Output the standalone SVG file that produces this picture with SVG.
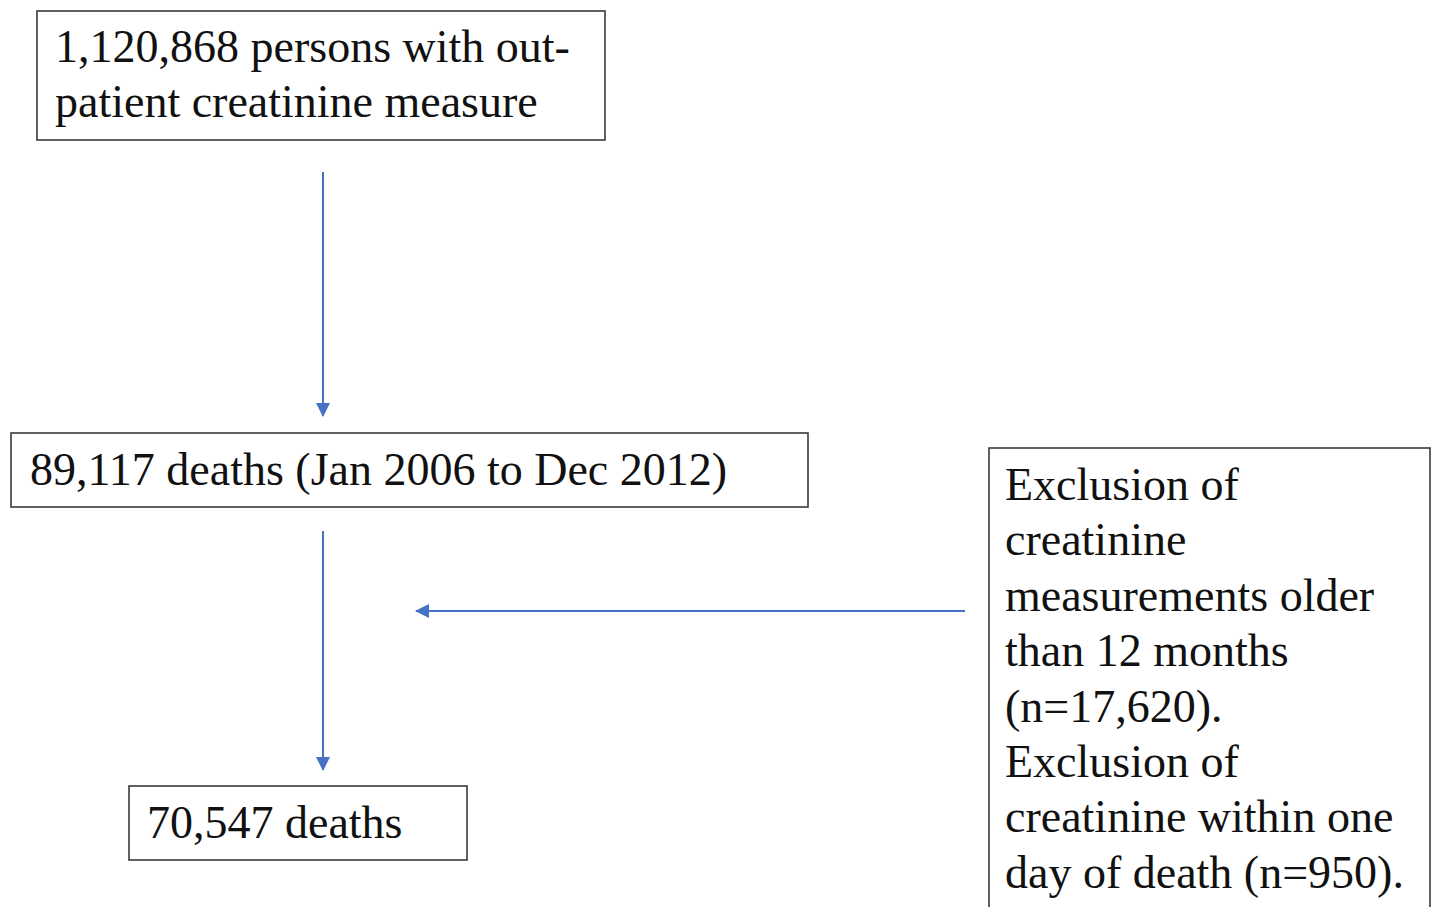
<svg xmlns="http://www.w3.org/2000/svg" width="1432" height="907" viewBox="0 0 1432 907">
<style>
.box{fill:#fff;stroke:#3a3a3a;stroke-width:1.6}
.t{font-family:"Liberation Serif","Times New Roman",serif;font-size:46px;fill:#111}
.c{stroke:#4472C4;stroke-width:2;fill:none}
</style>
<defs>
<marker id="ah" markerWidth="14" markerHeight="14" refX="13" refY="7" orient="auto" markerUnits="userSpaceOnUse">
<path d="M0,0 L14,7 L0,14 Z" fill="#4472C4"/>
</marker>
</defs>
<rect width="1432" height="907" fill="#fff"/>
<g id="n1">
<rect class="box" x="37" y="11" width="568" height="129"/>
<text class="t" x="55" y="62">1,120,868 persons with out-</text>
<text class="t" x="55" y="117">patient creatinine measure</text>
</g>
<g id="n2">
<rect class="box" x="11" y="433" width="797" height="74"/>
<text class="t" x="30" y="485">89,117 deaths (Jan 2006 to Dec 2012)</text>
</g>
<g id="n3">
<rect class="box" x="129" y="786" width="338" height="74"/>
<text class="t" x="147" y="838">70,547 deaths</text>
</g>
<g id="n4">
<rect class="box" x="989" y="448" width="441" height="480"/>
<text class="t" x="1005" y="500">Exclusion of</text>
<text class="t" x="1005" y="555">creatinine</text>
<text class="t" x="1005" y="611">measurements older</text>
<text class="t" x="1005" y="666">than 12 months</text>
<text class="t" x="1005" y="722">(n=17,620).</text>
<text class="t" x="1005" y="777">Exclusion of</text>
<text class="t" x="1005" y="832">creatinine within one</text>
<text class="t" x="1005" y="888">day of death (n=950).</text>
</g>
<g id="connectors">
<line class="c" x1="323" y1="172" x2="323" y2="416" marker-end="url(#ah)"/>
<line class="c" x1="323" y1="531" x2="323" y2="770" marker-end="url(#ah)"/>
<line class="c" x1="965" y1="611" x2="416" y2="611" marker-end="url(#ah)"/>
</g>
</svg>
